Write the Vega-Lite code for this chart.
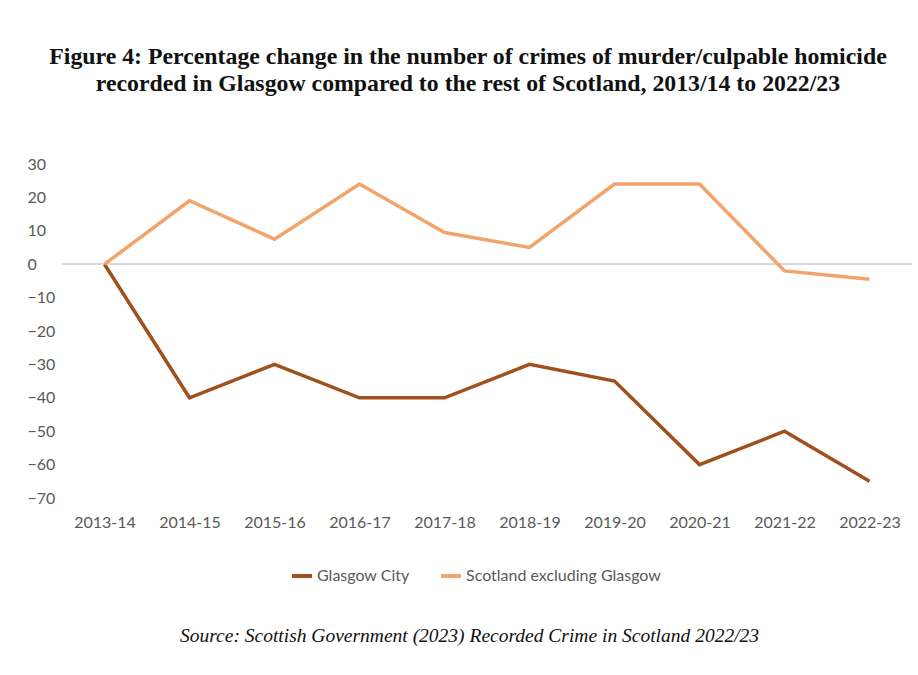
{
  "$schema": "https://vega.github.io/schema/vega-lite/v6.json",
  "autosize": "none",
  "width": 850,
  "height": 334,
  "padding": {"left": 62, "top": 164, "right": 6, "bottom": 177},
  "background": "white",
  "title": {
    "text": ["Figure 4: Percentage change in the number of crimes of murder/culpable homicide", "recorded in Glasgow compared to the rest of Scotland, 2013/14 to 2022/23"],
    "font": "Liberation Serif",
    "fontSize": 23.8,
    "fontWeight": "bold",
    "color": "#111111",
    "anchor": "middle",
    "frame": "group",
    "dx": -19,
    "offset": 60,
    "lineHeight": 27
  },
  "data": {
    "values": [
      {"year": "2013-14", "series": "Glasgow City", "value": 0},
      {"year": "2014-15", "series": "Glasgow City", "value": -40},
      {"year": "2015-16", "series": "Glasgow City", "value": -30},
      {"year": "2016-17", "series": "Glasgow City", "value": -40},
      {"year": "2017-18", "series": "Glasgow City", "value": -40},
      {"year": "2018-19", "series": "Glasgow City", "value": -30},
      {"year": "2019-20", "series": "Glasgow City", "value": -35},
      {"year": "2020-21", "series": "Glasgow City", "value": -60},
      {"year": "2021-22", "series": "Glasgow City", "value": -50},
      {"year": "2022-23", "series": "Glasgow City", "value": -65},
      {"year": "2013-14", "series": "Scotland excluding Glasgow", "value": 0},
      {"year": "2014-15", "series": "Scotland excluding Glasgow", "value": 19},
      {"year": "2015-16", "series": "Scotland excluding Glasgow", "value": 7.5},
      {"year": "2016-17", "series": "Scotland excluding Glasgow", "value": 24},
      {"year": "2017-18", "series": "Scotland excluding Glasgow", "value": 9.5},
      {"year": "2018-19", "series": "Scotland excluding Glasgow", "value": 5},
      {"year": "2019-20", "series": "Scotland excluding Glasgow", "value": 24},
      {"year": "2020-21", "series": "Scotland excluding Glasgow", "value": 24},
      {"year": "2021-22", "series": "Scotland excluding Glasgow", "value": -2},
      {"year": "2022-23", "series": "Scotland excluding Glasgow", "value": -4.5}
    ]
  },
  "layer": [
    {
      "mark": {"type": "rule", "color": "#d9d9d9", "strokeWidth": 1.5},
      "encoding": {
        "y": {
          "datum": 0,
          "type": "quantitative",
          "scale": {"domain": [-70, 30], "nice": false, "zero": false},
          "axis": {"title": null, "values": [30, 20, 10, 0, -10, -20, -30, -40, -50, -60, -70], "labelOverlap": false, "grid": false, "domain": false, "ticks": false, "labelAlign": "left", "labelPadding": 35, "labelFlush": false, "labelBound": false}
        }
      }
    },
    {
      "mark": {"type": "line", "strokeWidth": 3.5},
      "encoding": {
        "x": {
          "field": "year",
          "type": "ordinal",
          "scale": {"type": "point", "padding": 0.5},
          "axis": {
            "title": "Source: Scottish Government (2023) Recorded Crime in Scotland 2022/23",
            "titleFont": "Liberation Serif",
            "titleFontStyle": "italic",
            "titleFontWeight": "normal",
            "titleFontSize": 19.5,
            "titleColor": "#111111",
            "titlePadding": 96,
            "titleX": 407,
            "labelAngle": 0, "domain": false, "ticks": false, "labelPadding": 16
          }
        },
        "y": {
          "field": "value",
          "type": "quantitative",
          "scale": {"domain": [-70, 30], "nice": false, "zero": false},
          "axis": {"title": null, "values": [30, 20, 10, 0, -10, -20, -30, -40, -50, -60, -70], "labelOverlap": false, "grid": false, "domain": false, "ticks": false, "labelAlign": "left", "labelPadding": 35, "labelFlush": false, "labelBound": false}
        },
        "color": {
          "field": "series",
          "type": "nominal",
          "scale": {"domain": ["Glasgow City", "Scotland excluding Glasgow"], "range": ["#a0501c", "#f2a46c"]},
          "legend": {
            "title": null,
            "orient": "none",
            "legendX": 228,
            "legendY": 400,
            "direction": "horizontal",
            "symbolType": "stroke",
            "symbolStrokeWidth": 4,
            "symbolSize": 400,
            "columnPadding": 23,
            "labelFont": "Lato",
            "labelFontSize": 16,
            "labelColor": "#595959",
            "labelOffset": 3,
            "labelLimit": 400
          }
        }
      }
    }
  ],
  "config": {
    "view": {"stroke": null},
    "axis": {"labelFont": "Lato", "labelFontSize": 16, "labelColor": "#595959"}
  }
}
